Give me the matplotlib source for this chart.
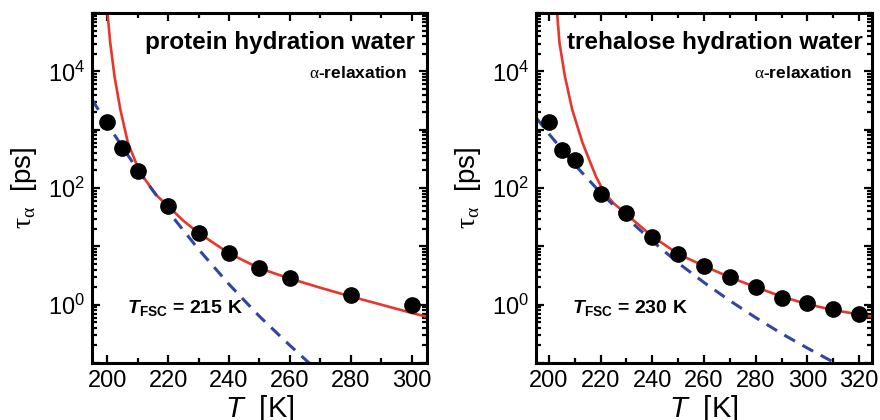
import matplotlib
matplotlib.use('Agg')
import matplotlib.pyplot as plt
import matplotlib.ticker as ticker
import numpy as np

plt.rcParams['font.family'] = ['Liberation Sans', 'DejaVu Sans']
plt.rcParams['mathtext.fontset'] = 'custom'
plt.rcParams['mathtext.rm'] = 'Liberation Sans'
plt.rcParams['mathtext.it'] = 'Liberation Sans:italic'
plt.rcParams['mathtext.bf'] = 'Liberation Sans:bold'
plt.rcParams['mathtext.bfit'] = 'Liberation Sans:italic:bold'
plt.rcParams['mathtext.sf'] = 'Liberation Serif'
plt.rcParams['mathtext.default'] = 'regular'

# protein hydration water
prot_T = [200, 205, 210, 220, 230, 240, 250, 260, 280, 300]
prot_tau = [1350, 480, 195, 49, 17, 7.7, 4.3, 2.9, 1.45, 0.98]
prot_vft_T = [199.8, 200.1, 201, 202.4, 204.3, 206.8, 210.3, 212.4, 216.3, 220,
              225, 230, 240, 250, 260, 270, 280, 290, 300, 305]
prot_vft_tau = [2.0e5, 1.0e5, 31000, 8300, 2240, 600, 209, 141, 74, 49,
                27.5, 17, 7.6, 4.2, 2.8, 1.95, 1.38, 1.0, 0.72, 0.62]
prot_arr_T = [195, 200, 210, 220, 230, 240, 250, 260, 268]
prot_arr_tau = [3300, 1260, 204, 40, 8.9, 2.24, 0.63, 0.2, 0.083]

# trehalose hydration water
treh_T = [200, 205, 210, 220, 230, 240, 250, 260, 270, 280, 290, 300, 310, 320]
treh_tau = [1350, 450, 300, 79, 37, 14.5, 7.4, 4.6, 2.95, 2.0, 1.32, 1.07, 0.83, 0.68]
treh_vft_T = [203.0, 203.2, 204.1, 206.2, 209.0, 213.0, 218.1, 221.3, 225, 230,
              240, 250, 260, 270, 280, 290, 300, 310, 320, 325]
treh_vft_tau = [2.0e5, 1.0e5, 31000, 8300, 2240, 600, 162, 85, 55, 35.5,
                14.8, 7.4, 4.6, 2.95, 2.0, 1.38, 1.02, 0.81, 0.68, 0.62]
treh_arr_T = [195, 200, 210, 220, 230, 240, 250, 260, 270, 280, 290, 300, 312]
treh_arr_tau = [1620, 850, 251, 83, 31, 12.3, 5.2, 2.4, 1.17, 0.6, 0.32, 0.18, 0.093]

panels = [
    dict(T=prot_T, tau=prot_tau, vT=prot_vft_T, vtau=prot_vft_tau,
         aT=prot_arr_T, atau=prot_arr_tau, xlim=(195, 305),
         title='protein hydration water', tfsc='215', tx=0.964),
    dict(T=treh_T, tau=treh_tau, vT=treh_vft_T, vtau=treh_vft_tau,
         aT=treh_arr_T, atau=treh_arr_tau, xlim=(195, 325),
         title='trehalose hydration water', tfsc='230', tx=0.973),
]

red = '#e8372a'
blue = '#2f47a3'

fig = plt.figure(figsize=(8.8, 4.2), dpi=100)
rects = [[0.1045, 0.1357, 0.3807, 0.8333], [0.609, 0.1357, 0.382, 0.8333]]

def decade_label(v, pos):
    e = int(round(np.log10(v)))
    if e % 2 == 0:
        return r'$10^{%d}$' % e
    return ''

for rect, p in zip(rects, panels):
    ax = fig.add_axes(rect)
    ax.set_yscale('log')
    ax.plot(p['vT'], p['vtau'], color=red, lw=1.9, zorder=2)
    ax.plot(p['aT'], p['atau'], color=blue, lw=2.2, dashes=(4, 2.8), zorder=2)
    ax.plot(p['T'], p['tau'], 'o', color='black', ms=11, zorder=3)
    ax.set_xlim(*p['xlim'])
    ax.set_ylim(0.1, 1e5)

    ax.xaxis.set_major_locator(ticker.MultipleLocator(20))
    ax.xaxis.set_minor_locator(ticker.MultipleLocator(10))
    ax.yaxis.set_major_locator(ticker.LogLocator(base=10, numticks=20))
    ax.yaxis.set_minor_locator(ticker.LogLocator(base=10, subs=np.arange(2, 10), numticks=20))
    ax.yaxis.set_major_formatter(ticker.FuncFormatter(decade_label))
    ax.yaxis.set_minor_formatter(ticker.NullFormatter())
    ax.tick_params(which='both', direction='in', top=True, right=True, labelsize=17, width=1.6)
    ax.tick_params(which='major', length=6, pad=5)
    ax.tick_params(which='minor', length=3.5)
    for s in ax.spines.values():
        s.set_linewidth(2.2)

    ax.set_xlabel(r'$\mathit{T}$  [K]', fontsize=21, labelpad=1)
    ax.set_ylabel(r'$\mathsf{\tau}_{\mathsf{\alpha}}$  [ps]', fontsize=20, labelpad=6)

    ax.text(p['tx'], 0.917, p['title'], transform=ax.transAxes, ha='right', va='center',
            fontsize=17.5, fontweight='bold')
    ax.text(0.939, 0.83, r'$\mathsf{\alpha}$-relaxation', transform=ax.transAxes,
            ha='right', va='center', fontsize=12.5, fontweight='bold')
    ax.text(0.106, 0.157, r'$\mathbfit{T}_{\mathbf{FSC}}$ = %s K' % p['tfsc'],
            transform=ax.transAxes, ha='left', va='center', fontsize=14, fontweight='bold')

fig.savefig('out.png', dpi=100)
